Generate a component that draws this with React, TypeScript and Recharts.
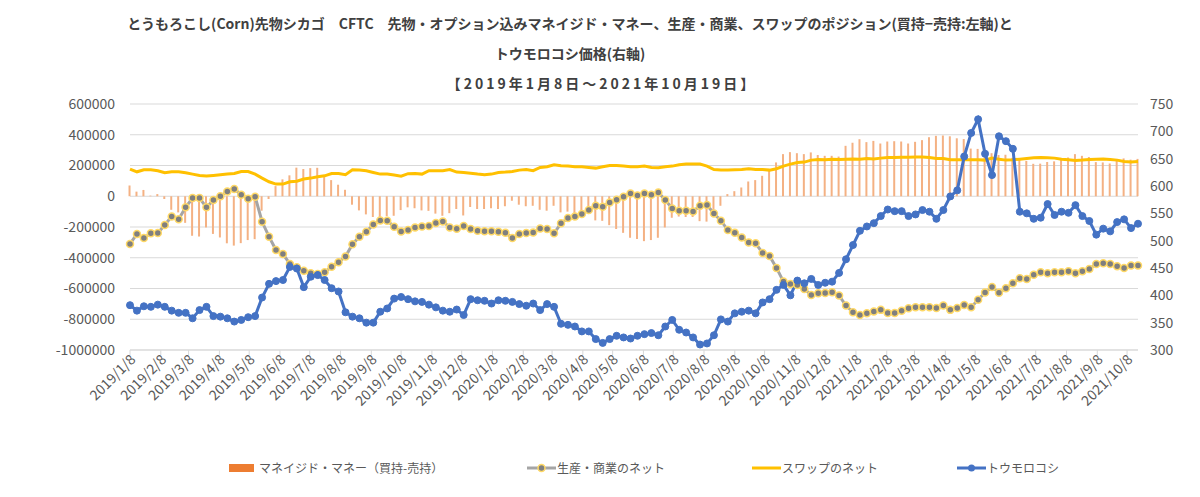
import React from 'react';
import { ComposedChart, Bar, Line, XAxis, YAxis, CartesianGrid } from 'recharts';

// weekly CFTC report dates, first one 2019/1/8 (Tuesday)
const START = Date.UTC(2019, 0, 8);
const DAY = 86400000;

// マネイジド・マネー (買持-売持)
const managedMoney = [
  70000, 30000, 41000, 4000, 14000, -18000, -88000, -105000, -173000, -257000,
  -262000, -203000, -245000, -268000, -306000, -321000, -305000, -285000, -279000, -94000,
  -18000, 66000, 110000, 136000, 186000, 177000, 183000, 185000, 125000, 105000,
  75000, 42000, -55000, -92000, -118000, -135000, -140000, -130000, -127000, -90000,
  -72000, -78000, -92000, -95000, -113000, -127000, -110000, -83000, -125000, -70000,
  -83000, -83000, -78000, -83000, -65000, -29000, -55000, -65000, -62000, -88000,
  -94000, -62000, -105000, -100000, -114000, -108000, -116000, -157000, -160000, -188000,
  -213000, -238000, -270000, -278000, -292000, -285000, -270000, -203000, -140000, -132000,
  -135000, -135000, -162000, -165000, -114000, -62000, 14000, 33000, 57000, 96000,
  105000, 133000, 170000, 220000, 274000, 287000, 280000, 274000, 285000, 268000,
  263000, 263000, 258000, 328000, 348000, 371000, 352000, 360000, 343000, 356000,
  358000, 356000, 343000, 354000, 365000, 384000, 393000, 395000, 390000, 377000,
  372000, 310000, 308000, 293000, 280000, 268000, 270000, 250000, 236000, 230000,
  211000, 212000, 223000, 227000, 238000, 252000, 274000, 263000, 255000, 222000,
  220000, 213000, 238000, 246000, 238000, 243000,
];

// 生産・商業のネット
const producerNet = [
  -310000, -245000, -272000, -241000, -239000, -187000, -131000, -150000, -72000, -12000,
  -12000, -72000, -25000, 0, 31000, 47000, 10000, -16000, -3000, -166000,
  -263000, -350000, -376000, -440000, -462000, -484000, -501000, -505000, -495000, -458000,
  -430000, -392000, -312000, -263000, -231000, -183000, -157000, -159000, -198000, -230000,
  -219000, -203000, -196000, -194000, -174000, -164000, -203000, -211000, -194000, -213000,
  -224000, -228000, -228000, -231000, -237000, -272000, -245000, -239000, -235000, -209000,
  -213000, -241000, -176000, -142000, -131000, -116000, -90000, -62000, -68000, -40000,
  -23000, -3000, 18000, 5000, 18000, 10000, 25000, -25000, -79000, -94000,
  -94000, -99000, -62000, -57000, -112000, -159000, -220000, -237000, -268000, -300000,
  -306000, -369000, -388000, -466000, -555000, -570000, -577000, -603000, -643000, -631000,
  -629000, -625000, -646000, -711000, -755000, -772000, -761000, -750000, -739000, -759000,
  -759000, -744000, -729000, -722000, -722000, -722000, -727000, -711000, -739000, -727000,
  -707000, -722000, -673000, -626000, -590000, -628000, -599000, -566000, -534000, -538000,
  -510000, -495000, -501000, -495000, -495000, -488000, -501000, -488000, -473000, -440000,
  -436000, -440000, -456000, -466000, -451000, -451000,
];

// スワップのネット
const swapNet = [
  177000, 159000, 172000, 172000, 166000, 153000, 159000, 159000, 153000, 144000,
  135000, 131000, 135000, 140000, 144000, 148000, 161000, 161000, 144000, 118000,
  94000, 79000, 79000, 94000, 98000, 112000, 118000, 127000, 133000, 148000,
  148000, 140000, 172000, 170000, 166000, 155000, 144000, 144000, 138000, 131000,
  147000, 148000, 144000, 166000, 166000, 166000, 174000, 157000, 155000, 150000,
  144000, 140000, 144000, 155000, 157000, 161000, 170000, 174000, 166000, 187000,
  192000, 205000, 198000, 196000, 192000, 192000, 187000, 183000, 192000, 200000,
  200000, 196000, 192000, 192000, 196000, 187000, 185000, 192000, 196000, 205000,
  209000, 209000, 209000, 196000, 174000, 170000, 170000, 172000, 174000, 179000,
  174000, 174000, 170000, 179000, 196000, 209000, 220000, 222000, 235000, 239000,
  237000, 241000, 239000, 241000, 243000, 241000, 246000, 243000, 248000, 252000,
  252000, 254000, 254000, 256000, 256000, 252000, 246000, 246000, 237000, 237000,
  237000, 237000, 237000, 235000, 248000, 241000, 235000, 237000, 241000, 246000,
  250000, 252000, 250000, 248000, 241000, 237000, 233000, 235000, 239000, 241000,
  243000, 239000, 235000, 226000, 222000, 226000,
];

// トウモロコシ価格 (右軸)
const cornPrice = [
  382, 372, 380, 379, 383, 379, 372, 368, 368, 358,
  373, 379, 362, 361, 358, 352, 355, 360, 362, 396,
  421, 426, 428, 452, 449, 415, 434, 437, 428, 413,
  407, 369, 361, 358, 350, 350, 370, 376, 394, 397,
  393, 389, 388, 383, 378, 372, 370, 374, 364, 393,
  391, 390, 385, 391, 390, 388, 384, 381, 385, 373,
  384, 379, 348, 346, 343, 334, 334, 320, 313, 320,
  326, 323, 321, 326, 329, 331, 327, 343, 355, 337,
  332, 323, 310, 312, 327, 356, 352, 367, 370, 372,
  367, 387, 393, 410, 419, 400, 427, 422, 430, 419,
  423, 425, 441, 466, 492, 518, 526, 532, 545, 557,
  554, 554, 545, 548, 556, 553, 540, 556, 581, 592,
  654, 697, 722, 659, 620, 691, 682, 668, 553, 550,
  540, 542, 567, 547, 553, 551, 565, 545, 536, 511,
  522, 517, 534, 539, 523, 531,
];

const tickLabels = [
  '2019/1/8', '2019/2/8', '2019/3/8', '2019/4/8', '2019/5/8', '2019/6/8', '2019/7/8',
  '2019/8/8', '2019/9/8', '2019/10/8', '2019/11/8', '2019/12/8', '2020/1/8', '2020/2/8',
  '2020/3/8', '2020/4/8', '2020/5/8', '2020/6/8', '2020/7/8', '2020/8/8', '2020/9/8',
  '2020/10/8', '2020/11/8', '2020/12/8', '2021/1/8', '2021/2/8', '2021/3/8', '2021/4/8',
  '2021/5/8', '2021/6/8', '2021/7/8', '2021/8/8', '2021/9/8', '2021/10/8',
];

const leftTicks = [-1000000, -800000, -600000, -400000, -200000, 0, 200000, 400000, 600000];
const rightTicks = [300, 350, 400, 450, 500, 550, 600, 650, 700, 750];

const toTime = (s: string) => {
  const [y, m, d] = s.split('/').map(Number);
  return Date.UTC(y, m - 1, d);
};
const xTicks = tickLabels.map(toTime);
const labelByTime = new Map(xTicks.map((t, i) => [t, tickLabels[i]]));

const data = managedMoney.map((mm, i) => ({
  t: START + i * 7 * DAY,
  mm,
  prod: producerNet[i],
  swap: swapNet[i],
  corn: cornPrice[i],
}));
const END = data[data.length - 1].t;

const FONT = '"Noto Sans CJK JP", "Noto Sans", sans-serif';

const XTick = (props: any) => {
  const { x, y, payload } = props;
  return (
    <g transform={`translate(${x + 3},${y}) rotate(-45)`}>
      <text textAnchor="end" dy="0.35em" fill="#595959" fontSize={14} fontFamily={FONT}>
        {labelByTime.get(payload.value)}
      </text>
    </g>
  );
};

const legendItems = [
  { label: 'マネイジド・マネー（買持-売持）', kind: 'bar', color: '#ED7D31', left: 229 },
  { label: '生産・商業のネット', kind: 'gray', color: '#A5A5A5', left: 527 },
  { label: 'スワップのネット', kind: 'line', color: '#FFC000', left: 752 },
  { label: 'トウモロコシ', kind: 'blue', color: '#4472C4', left: 957 },
];

const LegendIcon = ({ kind, color }: { kind: string; color: string }) => (
  <svg width={30} height={12} style={{ display: 'block' }}>
    {kind === 'bar' ? (
      <rect x={0} y={2} width={25} height={8} fill={color} />
    ) : (
      <>
        <line x1={0} y1={6} x2={29} y2={6} stroke={color} strokeWidth={3} />
        {kind === 'gray' && <circle cx={14.5} cy={6} r={3.5} fill="#7F7F7F" stroke="#FFD966" strokeWidth={1.5} />}
        {kind === 'blue' && <circle cx={14.5} cy={6} r={3.5} fill="#4472C4" />}
      </>
    )}
  </svg>
);

export default function App() {
  return (
    <div style={{ position: 'absolute', left: 0, top: 0, width: 1200, height: 497, background: '#fff', fontFamily: FONT }}>
      <div style={{ position: 'absolute', top: 8, left: 0, width: 1140, textAlign: 'center', fontSize: 14, fontWeight: 'bold', color: '#404040', lineHeight: '30px' }}>
        <div>とうもろこし(Corn)先物シカゴ　CFTC　先物・オプション込みマネイジド・マネー、生産・商業、スワップのポジション(買持−売持:左軸)と</div>
        <div>トウモロコシ価格(右軸)</div>
        <div style={{ paddingLeft: 64, fontSize: 14, letterSpacing: 3 }}>【2019年1月8日～2021年10月19日】</div>
      </div>
      <div style={{ position: 'absolute', top: 0, left: 0 }}>
        <ComposedChart width={1200} height={420} data={data} margin={{ top: 104, right: 0, bottom: 0, left: 0 }}>
          <CartesianGrid yAxisId="left" vertical={false} stroke="#D9D9D9" />
          <XAxis
            dataKey="t"
            type="number"
            domain={[START, END]}
            ticks={xTicks}
            interval={0}
            tick={<XTick />}
            tickSize={5}
            tickLine={{ stroke: '#D9D9D9' }}
            axisLine={{ stroke: '#D9D9D9' }}
            height={70}
          />
          <YAxis
            yAxisId="left"
            domain={[-1000000, 600000]}
            ticks={leftTicks}
            interval={0}
            width={130}
            axisLine={false}
            tickLine={false}
            tickMargin={9}
            tick={{ fill: '#595959', fontSize: 14, fontFamily: FONT }}
          />
          <YAxis
            yAxisId="right"
            orientation="right"
            domain={[300, 750]}
            ticks={rightTicks}
            interval={0}
            width={62}
            axisLine={false}
            tickLine={false}
            tickMargin={6}
            tick={{ fill: '#595959', fontSize: 14, fontFamily: FONT, textAnchor: 'start' }}
          />
          <Bar yAxisId="left" dataKey="mm" barSize={2} fill="#F4B183" isAnimationActive={false} />
          <Line
            yAxisId="left"
            dataKey="prod"
            stroke="#A5A5A5"
            strokeWidth={3}
            dot={{ r: 3.5, fill: '#7F7F7F', stroke: '#FFD966', strokeWidth: 1.5 }}
            isAnimationActive={false}
          />
          <Line yAxisId="left" dataKey="swap" stroke="#FFC000" strokeWidth={3} dot={false} isAnimationActive={false} />
          <Line
            yAxisId="right"
            dataKey="corn"
            stroke="#4472C4"
            strokeWidth={3}
            dot={{ r: 3.5, fill: '#4472C4', stroke: '#4472C4', strokeWidth: 1 }}
            isAnimationActive={false}
          />
        </ComposedChart>
      </div>
      {legendItems.map((it) => (
        <div key={it.label} style={{ position: 'absolute', top: 459, left: it.left, display: 'flex', alignItems: 'center', fontSize: 12, color: '#595959' }}>
          <LegendIcon kind={it.kind} color={it.color} />
          <span>{it.label}</span>
        </div>
      ))}
    </div>
  );
}
